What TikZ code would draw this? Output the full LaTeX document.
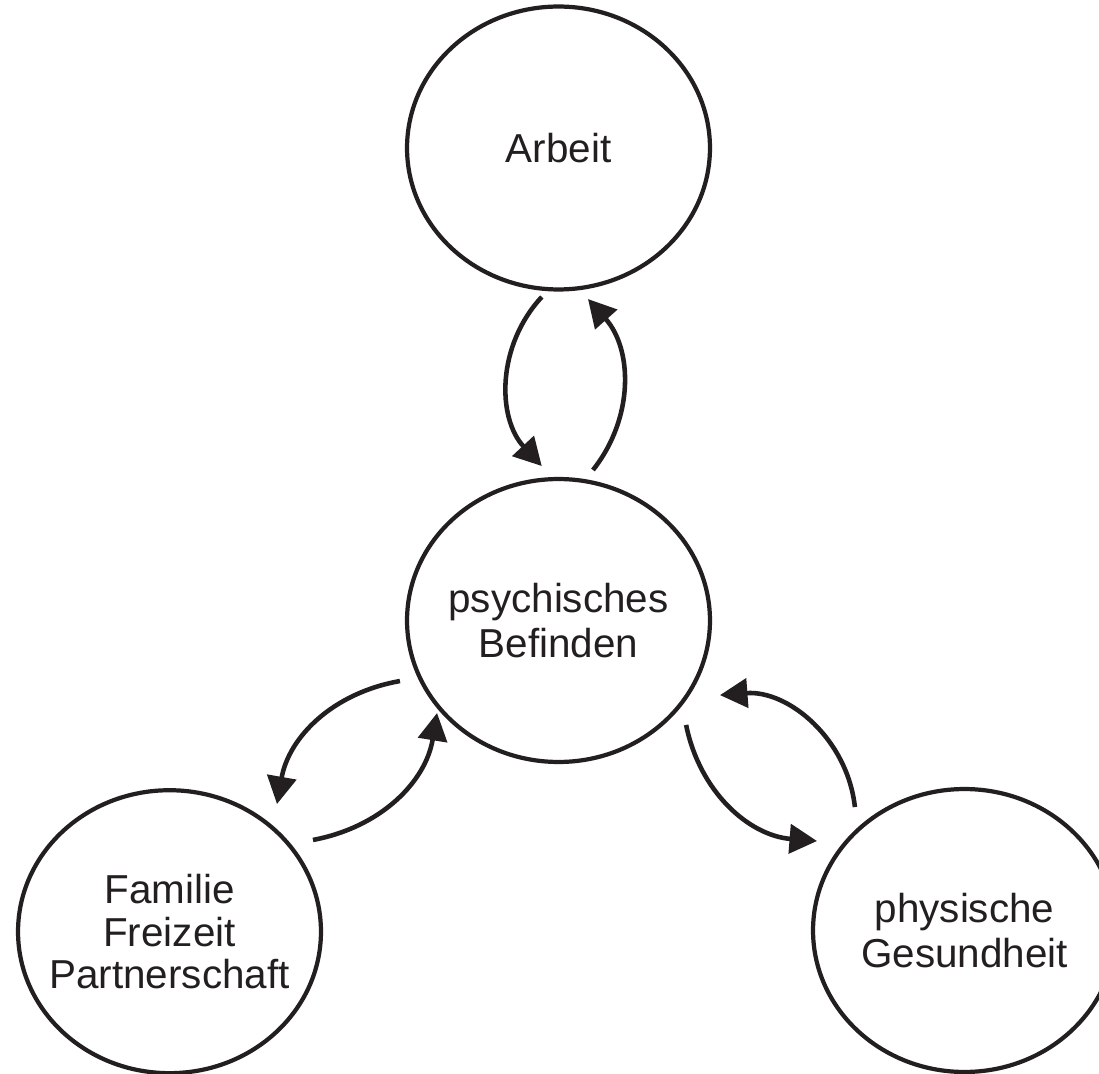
\documentclass[tikz,border=0pt]{standalone}
\usepackage{fontspec}
\setmainfont{Liberation Sans}
\usetikzlibrary{shapes.geometric,arrows.meta,calc}
\definecolor{ink}{RGB}{35,31,32}
\begin{document}
\begin{tikzpicture}[x=0.02cm,y=0.02cm,
  bubble/.style={ellipse,draw=ink,line width=2.4pt,
    minimum width=6.06cm,minimum height=5.66cm,inner sep=0pt,outer sep=0pt},
  caption/.style={text=ink,align=center,inner sep=0pt,
    font=\fontsize{23}{25.5}\selectfont},
  link/.style={draw=ink,line width=2.6pt,
    -{Triangle[length=0.55cm,width=0.58cm]}}]
\useasboundingbox[fill=white] (0,0) rectangle (1099,1073);

% the four areas of life
\node[bubble] (A) at (558.5,925)   {};
\node[bubble] (P) at (558.5,452.5) {};
\node[bubble] (F) at (169.5,141.3) {};
\node[bubble] (G) at (964.5,142.5) {};

\node[caption] (At) at (A.center) {Arbeit};
\node[caption] (Pt) at (P.center) {psychisches\\Befinden};
\node[caption,font=\fontsize{23}{24.2}\selectfont] (Ft) at (F.center)
  {Familie\\Freizeit\\Partnerschaft};
\node[caption] (Gt) at (G.center) {physische\\Gesundheit};

% mutual influences between work and well-being
\draw[link] ($(A.center)+(-96.4:149.9)$) to[bend right=43] ($(P.center)+(96.2:155.4)$);
\draw[link] ($(P.center)+(77.1:154.4)$)  to[bend right=40] ($(A.center)+(-78.95:153.9)$);

% well-being and private life
\draw[link] ($(P.center)+(-159.1:169.7)$) to[bend right=35] ($(F.center)+(49.9:166.9)$);
\draw[link] ($(F.center)+(32.6:170.3)$)   to[bend right=35] ($(P.center)+(-142.7:152.7)$);

% well-being and physical health
\draw[link] ($(P.center)+(-39.3:164.9)$)  to[bend right=37] ($(G.center)+(148.75:172.5)$);
\draw[link] ($(G.center)+(131.6:165.1)$)  to[bend right=44] ($(P.center)+(-24.8:177.9)$);
\end{tikzpicture}
\end{document}
